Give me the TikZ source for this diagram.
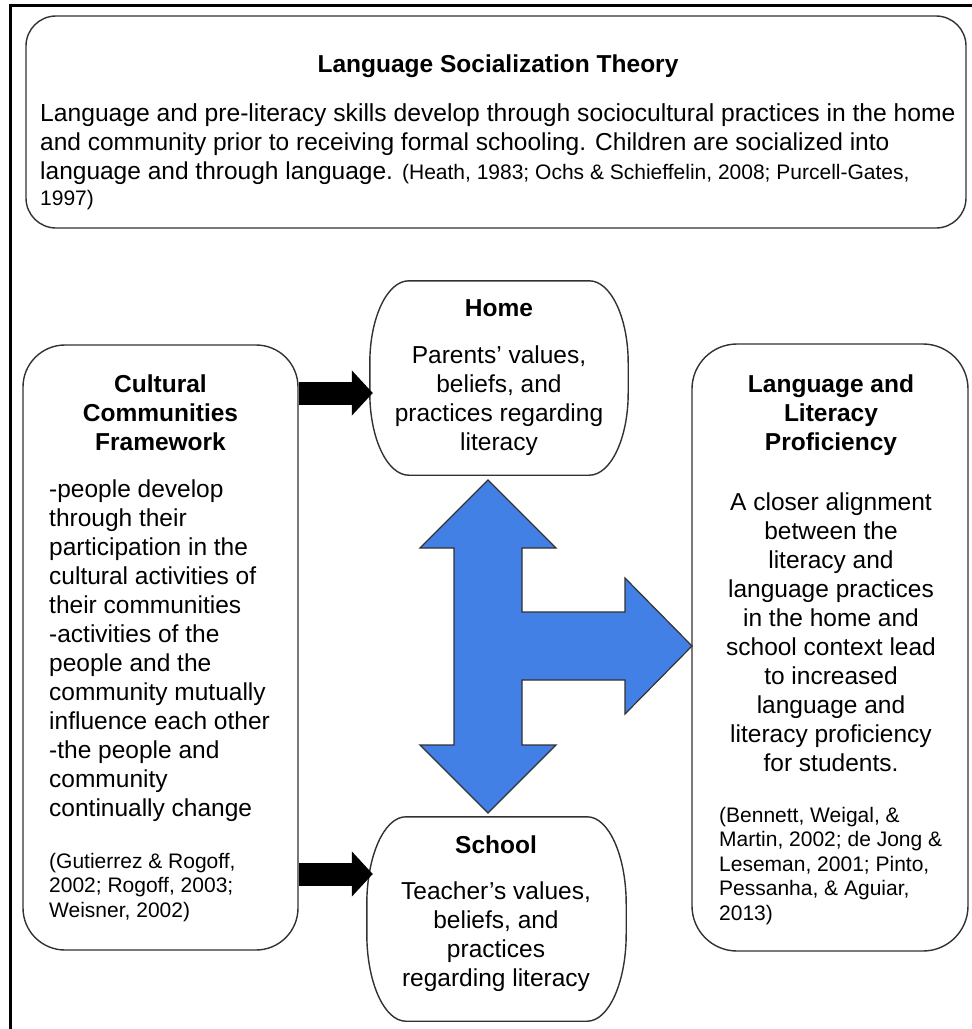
\documentclass[tikz,border=0pt]{standalone}
\usepackage{fontspec}
\setmainfont{Liberation Sans}
\usetikzlibrary{arrows.meta,calc}
\definecolor{arrowblue}{RGB}{66,128,230}
\definecolor{edgegray}{RGB}{50,50,50}
\newcommand{\bodyfont}{\fontsize{24.5}{29}\selectfont}
\newcommand{\citefont}{\fontsize{21}{24.5}\selectfont}
% capsule outline around an (invisible) node: #1 node name
\newcommand{\capsuleoutline}[1]{%
  \path ($(#1.north east)+(-39,0)$) coordinate (#1-p1)
        ($(#1.east)+(0,-15)$) coordinate (#1-p2)
        ($(#1.east)+(0,15)$) coordinate (#1-p3)
        ($(#1.south east)+(-39,0)$) coordinate (#1-p4)
        ($(#1.south west)+(39,0)$) coordinate (#1-p5)
        ($(#1.west)+(0,15)$) coordinate (#1-p6)
        ($(#1.west)+(0,-15)$) coordinate (#1-p7)
        ($(#1.north west)+(39,0)$) coordinate (#1-p8);
  \draw[boxline] (#1-p8) -- (#1-p1)
    .. controls ($(#1.north east)!0.448!(#1-p1)$) and ($(#1.north east)!0.448!(#1-p2)$) .. (#1-p2)
    -- (#1-p3)
    .. controls ($(#1.south east)!0.448!(#1-p3)$) and ($(#1.south east)!0.448!(#1-p4)$) .. (#1-p4)
    -- (#1-p5)
    .. controls ($(#1.south west)!0.448!(#1-p5)$) and ($(#1.south west)!0.448!(#1-p6)$) .. (#1-p6)
    -- (#1-p7)
    .. controls ($(#1.north west)!0.448!(#1-p7)$) and ($(#1.north west)!0.448!(#1-p8)$) .. (#1-p8)
    -- cycle;}
\begin{document}
\begin{tikzpicture}[x=1pt,y=-1pt,
  boxline/.style={draw=edgegray, line width=1.4pt},
  roundbox/.style={boxline, inner sep=0pt},
  titletext/.style={inner sep=0pt, anchor=base, align=center, font=\bfseries\bodyfont},
  centertext/.style={inner sep=0pt, anchor=base, align=center, font=\bodyfont},
  lefttext/.style={inner sep=0pt, anchor=base west, align=left, font=\bodyfont},
  citetext/.style={inner sep=0pt, anchor=base west, align=left, font=\citefont},
  blackarrow/.style={line width=23pt, -{Triangle[length=21pt,width=44pt]}},
  bigarrow/.style={fill=arrowblue, draw=edgegray, line width=1.2pt, line join=miter}
]
\useasboundingbox (0,0) rectangle (972,1029);
\fill[white] (0,0) rectangle (972,1029);
% outer frame (top and left edges)
\draw[line width=3pt] (10,1029) -- (10,5) -- (972,5);

% ---- top box
\node[roundbox, rounded corners=30pt, minimum width=940, minimum height=212] (lst) at (496,122) {};
\node[titletext] (lsttitle) at (498,72) {Language Socialization Theory};
\node[lefttext] (lstbody) at (40,205) {{\fontsize{24.65}{29}\selectfont Language and pre-literacy skills develop through sociocultural practices in the home}\\
and community prior to receiving formal schooling. Children are socialized into\\
language and through language. {\citefont(Heath, 1983; Ochs \& Schieffelin, 2008; Purcell-Gates,}\\[-3pt]
{\citefont 1997)}};

% ---- left box
\node[roundbox, rounded corners=42pt, minimum width=275, minimum height=605] (ccf) at (160.5,647.5) {};
\node[titletext] (ccftitle) at (160.5,450) {Cultural\\Communities\\Framework};
\node[lefttext] (ccfbody) at (49,816) {-people develop\\through their\\participation in the\\cultural activities of\\their communities\\-activities of the\\people and the\\community mutually\\influence each other\\-the people and\\community\\continually change};
\node[citetext] (ccfcite) at (49,917) {(Gutierrez \& Rogoff,\\2002; Rogoff, 2003;\\Weisner, 2002)};

% ---- right box
\node[roundbox, rounded corners=45pt, minimum width=276, minimum height=607] (llp) at (830,647.5) {};
\node[titletext] (llptitle) at (831,450) {Language and\\Literacy\\Proficiency};
\node[centertext] (llpbody) at (831,771) {A closer alignment\\between the\\literacy and\\language practices\\in the home and\\school context lead\\to increased\\language and\\literacy proficiency\\for students.};
\node[citetext] (llpcite) at (719,920) {(Bennett, Weigal, \&\\Martin, 2002; de Jong \&\\Leseman, 2001; Pinto,\\Pessanha, \& Aguiar,\\2013)};

% ---- home box
\node[inner sep=0pt, minimum width=258, minimum height=194] (home) at (499,378) {};
\capsuleoutline{home}
\node[titletext] (hometitle) at (499,316) {Home};
\node[centertext] (homebody) at (499,450) {Parents’ values,\\beliefs, and\\practices regarding\\literacy};

% ---- school box
\node[inner sep=0pt, minimum width=259, minimum height=204] (school) at (496.5,919) {};
\capsuleoutline{school}
\node[titletext] (schooltitle) at (496,853) {School};
\node[centertext] (schoolbody) at (496,986) {Teacher’s values,\\beliefs, and\\practices\\regarding literacy};

% ---- black arrows
\coordinate (arrowA) at (0,393);
\coordinate (arrowB) at (0,874);
\draw[blackarrow] (ccf.east |- arrowA) -- ([xshift=3pt]home.west |- arrowA);
\draw[blackarrow] (ccf.east |- arrowB) -- ([xshift=6pt]school.west |- arrowB);

% ---- blue three-way arrow
\draw[bigarrow] (488,480) -- (556,548) -- (522,548) -- (522,612) -- (625,612) -- (625,578)
  -- (692,646) -- (625,714) -- (625,680) -- (522,680) -- (522,745) -- (556,745)
  -- (488,813) -- (420,745) -- (454,745) -- (454,548) -- (420,548) -- cycle;
\end{tikzpicture}
\end{document}
